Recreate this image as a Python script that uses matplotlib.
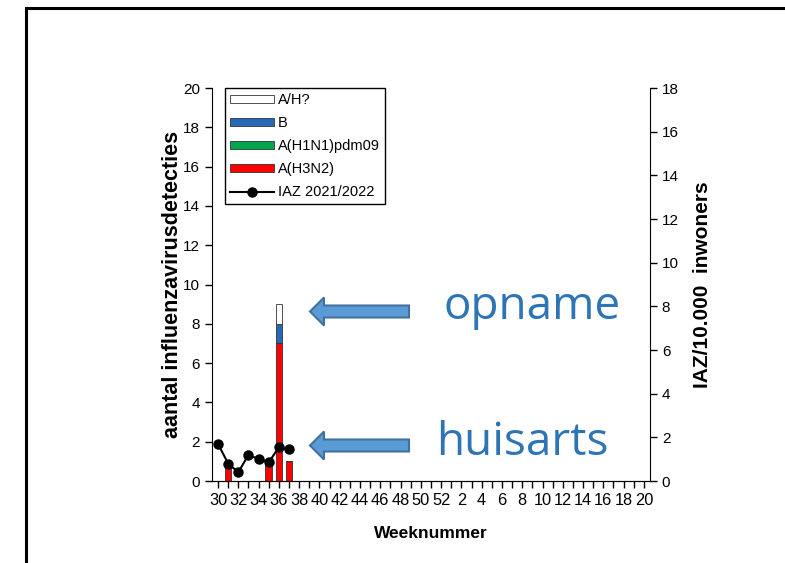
import numpy as np
import matplotlib
matplotlib.use("Agg")
import matplotlib.pyplot as plt
from matplotlib.patches import FancyArrow, Rectangle

# week axis: 30..52 then 1..20
week_labels = list(range(30, 53)) + list(range(1, 21))

# lab detections (left axis)
bar_weeks = [31, 35, 36, 37]
h3n2 = [1, 1, 7, 1]
h1n1 = [0, 0, 0, 0]
b_virus = [0, 0, 1, 0]
ah_unknown = [0, 0, 1, 0]

# IAZ per 10.000 (right axis)
iaz_weeks = [30, 31, 32, 33, 34, 35, 36, 37]
iaz = [1.7, 0.8, 0.4, 1.2, 1.0, 0.85, 1.55, 1.45]

plt.rcParams['font.family'] = ['Liberation Sans', 'DejaVu Sans']

def pos(w):
    return week_labels.index(w)

fig = plt.figure(figsize=(7.85, 5.63), dpi=100)
ax = fig.add_axes([0.270, 0.1456, 0.558, 0.698])

bx = np.array([pos(w) for w in bar_weeks])
h3n2 = np.array(h3n2); h1n1 = np.array(h1n1)
b_virus = np.array(b_virus); ah_unknown = np.array(ah_unknown)
bw = 0.65
kw = dict(width=bw, edgecolor='#333333', linewidth=0.6)
ax.bar(bx, h3n2, color='#ff0000', label='A(H3N2)', **kw)
ax.bar(bx, h1n1, bottom=h3n2, color='#00a650', label='A(H1N1)pdm09', **kw)
ax.bar(bx, b_virus, bottom=h3n2 + h1n1, color='#2569b8', label='B', **kw)
ax.bar(bx, ah_unknown, bottom=h3n2 + h1n1 + b_virus, color='white', label='A/H?', **kw)

ax.set_xlim(-0.6, len(week_labels) - 1 + 0.6)
ax.set_ylim(0, 20)
ax.set_yticks(range(0, 21, 2))
ax.set_xticks(range(0, len(week_labels), 2))
ax.set_xticklabels([str(week_labels[i]) for i in range(0, len(week_labels), 2)])
ax.set_xticks(range(1, len(week_labels), 2), minor=True)
ax.tick_params(axis='both', labelsize=11, length=5, width=1, direction='out')
ax.tick_params(axis='x', labelsize=11.8)
ax.tick_params(axis='x', which='minor', length=5, width=1)
ax.spines['top'].set_visible(False)
ax.spines['right'].set_visible(False)
ax.set_xlabel('Weeknummer', fontsize=12.5, fontweight='bold', labelpad=13)
ax.set_ylabel('aantal influenzavirusdetecties', fontsize=15.5, fontweight='bold', labelpad=0)

ax2 = ax.twinx()
ax2.set_ylim(0, 18)
ax2.set_yticks(range(0, 19, 2))
ax2.tick_params(axis='y', labelsize=11, length=5, width=1, direction='out')
ax2.spines['top'].set_visible(False)
ax2.spines['left'].set_visible(False)
ax2.set_ylabel('IAZ/10.000  inwoners', fontsize=15, fontweight='bold', labelpad=10)
ix = [pos(w) for w in iaz_weeks]
line, = ax2.plot(ix, iaz, color='black', lw=1.5, marker='o', ms=6.5, label='IAZ 2021/2022')

h, l = ax.get_legend_handles_labels()
order = [3, 2, 1, 0]
leg = ax.legend([h[i] for i in order] + [line], [l[i] for i in order] + ['IAZ 2021/2022'],
                loc='upper left', bbox_to_anchor=(0.03, 1.0), fontsize=10.5,
                handlelength=3.0, handleheight=0.45, handletextpad=0.25,
                labelspacing=0.62, borderpad=0.35, fancybox=False,
                edgecolor='black', framealpha=1, borderaxespad=0)
leg.get_frame().set_linewidth(1)

# arrows and annotations
W, H = 785.0, 563.0
arrow_kw = dict(facecolor='#5b9bd5', edgecolor='#41719c', linewidth=1.5,
                length_includes_head=True, transform=fig.transFigure)
for ypx in (311.5, 445.5):
    fig.add_artist(FancyArrow(409 / W, 1 - ypx / H, -99 / W, 0, width=12 / H,
                              head_width=28 / H, head_length=14 / W, **arrow_kw))
fig.text(443 / W, 1 - 319 / H, 'opname', fontsize=33, color='#2e75b6',
         family='Open Sans', va='baseline')
fig.text(436 / W, 1 - 455 / H, 'huisarts', fontsize=33, color='#2e75b6',
         family='Open Sans', va='baseline')

# outer frame (slide border)
fig.add_artist(Rectangle((26 / W, -0.1), 1.2, 1 - 8 / H + 0.1, transform=fig.transFigure,
                         fill=False, edgecolor='black', linewidth=2.2))

fig.savefig('out.png', dpi=100)
